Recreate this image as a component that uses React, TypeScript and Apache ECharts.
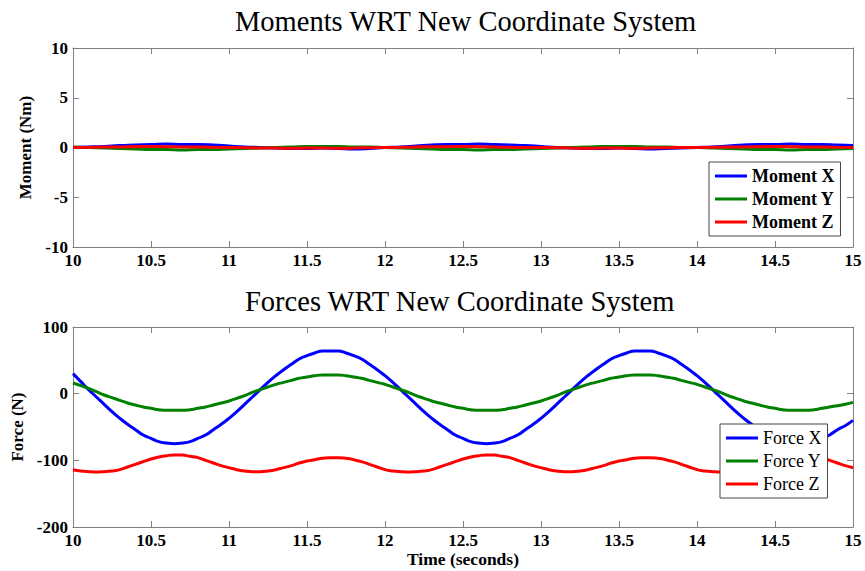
import React, { useEffect, useRef } from "react";
import * as echarts from "echarts";

// Moment samples (0.1 s)
const T_MOMENT = [
  10.0, 10.1, 10.2, 10.3, 10.4, 10.5, 10.6, 10.7, 10.8, 10.9,
  11.0, 11.1, 11.2, 11.3, 11.4, 11.5, 11.6, 11.7, 11.8, 11.9,
  12.0, 12.1, 12.2, 12.3, 12.4, 12.5, 12.6, 12.7, 12.8, 12.9,
  13.0, 13.1, 13.2, 13.3, 13.4, 13.5, 13.6, 13.7, 13.8, 13.9,
  14.0, 14.1, 14.2, 14.3, 14.4, 14.5, 14.6, 14.7, 14.8, 14.9, 15.0,
];

const MOMENT_X = [
  0.0, 0.05, 0.1, 0.2, 0.25, 0.3, 0.35, 0.3, 0.3, 0.25,
  0.15, 0.05, 0.0, -0.05, -0.1, -0.1, -0.05, -0.1, -0.15, -0.1,
  0.0, 0.05, 0.15, 0.25, 0.3, 0.3, 0.35, 0.3, 0.25, 0.2,
  0.1, 0.0, -0.05, -0.1, -0.1, -0.05, -0.1, -0.15, -0.1, -0.05,
  0.0, 0.05, 0.15, 0.25, 0.3, 0.3, 0.35, 0.3, 0.3, 0.25, 0.2,
];
const MOMENT_Y = [
  0.05, 0.0, -0.05, -0.1, -0.15, -0.2, -0.2, -0.25, -0.2, -0.2,
  -0.15, -0.1, -0.05, 0.0, 0.05, 0.1, 0.1, 0.1, 0.05, 0.05,
  0.0, -0.05, -0.1, -0.15, -0.2, -0.2, -0.25, -0.2, -0.2, -0.15,
  -0.1, -0.05, 0.0, 0.05, 0.1, 0.1, 0.1, 0.05, 0.05, 0.0,
  0.0, -0.05, -0.1, -0.15, -0.2, -0.2, -0.25, -0.2, -0.2, -0.15, -0.1,
];
const MOMENT_Z = [
  0.0, 0.02, 0.05, 0.05, 0.08, 0.1, 0.08, 0.05, 0.05, 0.02,
  0.0, -0.02, -0.05, -0.05, -0.08, -0.05, -0.05, -0.08, -0.05, -0.02,
  0.0, 0.02, 0.05, 0.08, 0.08, 0.1, 0.08, 0.05, 0.02, 0.0,
  0.0, -0.02, -0.05, -0.08, -0.05, -0.05, -0.08, -0.05, -0.02, 0.0,
  0.0, 0.02, 0.05, 0.05, 0.08, 0.1, 0.08, 0.05, 0.05, 0.02, 0.0,
];

// Force samples (0.05 s)
const T_FORCE = [
  10.0, 10.05, 10.1, 10.15, 10.2, 10.25, 10.3, 10.35, 10.4, 10.45,
  10.5, 10.55, 10.6, 10.65, 10.7, 10.75, 10.8, 10.85, 10.9, 10.95,
  11.0, 11.05, 11.1, 11.15, 11.2, 11.25, 11.3, 11.35, 11.4, 11.45,
  11.5, 11.55, 11.6, 11.65, 11.7, 11.75, 11.8, 11.85, 11.9, 11.95,
  12.0, 12.05, 12.1, 12.15, 12.2, 12.25, 12.3, 12.35, 12.4, 12.45,
  12.5, 12.55, 12.6, 12.65, 12.7, 12.75, 12.8, 12.85, 12.9, 12.95,
  13.0, 13.05, 13.1, 13.15, 13.2, 13.25, 13.3, 13.35, 13.4, 13.45,
  13.5, 13.55, 13.6, 13.65, 13.7, 13.75, 13.8, 13.85, 13.9, 13.95,
  14.0, 14.05, 14.1, 14.15, 14.2, 14.25, 14.3, 14.35, 14.4, 14.45,
  14.5, 14.55, 14.6, 14.65, 14.7, 14.75, 14.8, 14.85, 14.9, 14.95, 15.0,
];

const FORCE_X = [
  30, 18, 6, -5, -16, -27, -37, -46, -54, -62,
  -67, -72, -74, -75, -74, -72, -67, -62, -54, -46,
  -37, -27, -16, -5, 6, 17, 27, 36, 44, 52,
  57, 61, 64, 64, 64, 61, 57, 52, 44, 36,
  27, 17, 6, -5, -16, -27, -37, -46, -54, -62,
  -67, -72, -74, -75, -74, -72, -67, -62, -54, -46,
  -37, -27, -16, -5, 6, 17, 27, 36, 44, 52,
  57, 61, 64, 64, 64, 61, 57, 52, 44, 36,
  27, 17, 6, -5, -16, -27, -37, -46, -54, -62,
  -67, -72, -74, -75, -74, -72, -67, -62, -54, -48, -40,
];
const FORCE_Y = [
  16, 12, 8, 3, -2, -6, -10, -14, -17, -20,
  -22, -24, -25, -25, -25, -24, -22, -20, -17, -14,
  -11, -7, -3, 2, 6, 10, 14, 17, 20, 23,
  25, 27, 28, 28, 28, 27, 25, 23, 20, 17,
  14, 10, 6, 2, -3, -7, -11, -14, -17, -20,
  -22, -24, -25, -25, -25, -24, -22, -20, -17, -14,
  -11, -7, -3, 2, 6, 10, 14, 17, 20, 23,
  25, 27, 28, 28, 28, 27, 25, 23, 20, 17,
  14, 10, 6, 2, -3, -7, -11, -14, -17, -20,
  -22, -24, -25, -25, -25, -24, -22, -20, -18, -16, -13,
];
const FORCE_Z = [
  -114, -116, -117, -117.5, -117, -116, -114, -110, -106, -102,
  -98, -95, -93, -92, -92, -94, -96, -100, -104, -108,
  -111, -114, -116, -117, -117, -116, -114, -111, -108, -104,
  -101, -99, -97, -96, -96, -97, -99, -102, -106, -110,
  -114, -116, -117, -117.5, -117, -116, -114, -110, -106, -102,
  -98, -95, -93, -92, -92, -94, -96, -100, -104, -108,
  -111, -114, -116, -117, -117, -116, -114, -111, -108, -104,
  -101, -99, -97, -96, -96, -97, -99, -102, -106, -110,
  -114, -116, -117, -117.5, -117, -116, -114, -110, -106, -102,
  -98, -95, -93, -92, -92, -94, -96, -100, -104, -108, -111,
];

const X_TICKS = ["10", "10.5", "11", "11.5", "12", "12.5", "13", "13.5", "14", "14.5", "15"];

const FONT = "Liberation Serif";
const AXIS_COLOR = "#7f7f7f";

const pairs = (ts: number[], vals: number[]) => ts.map((t, i) => [t, vals[i]]);

export default function App() {
  const ref = useRef<HTMLDivElement>(null);
  useEffect(() => {
    if (!ref.current) return;
    const chart = echarts.init(ref.current, null, { renderer: "svg" });

    const labelStyle = { fontFamily: FONT, fontWeight: "bold" as const, fontSize: 17, color: "#000" };
    const xAxisBase = (gridIndex: number, pos: "bottom" | "top", showLabel: boolean, name?: string) => ({
      type: "value",
      gridIndex,
      position: pos,
      min: 10,
      max: 15,
      interval: 0.5,
      axisLine: { show: true, onZero: false, lineStyle: { color: AXIS_COLOR } },
      axisTick: { show: true, inside: true, length: 6, lineStyle: { color: AXIS_COLOR } },
      axisLabel: {
        show: showLabel,
        ...labelStyle,
        margin: 5,
        formatter: (v: number) => {
          const idx = Math.round((v - 10) / 0.5);
          return X_TICKS[idx] ?? "";
        },
      },
      splitLine: { show: false },
      name: name,
      nameLocation: "middle",
      nameGap: 22,
      nameTextStyle: { ...labelStyle, fontSize: 17.5 },
    });
    const yAxisBase = (
      gridIndex: number,
      pos: "left" | "right",
      showLabel: boolean,
      min: number,
      max: number,
      interval: number,
      name?: string,
      nameGap?: number
    ) => ({
      type: "value",
      gridIndex,
      position: pos,
      min,
      max,
      interval,
      axisLine: { show: true, onZero: false, lineStyle: { color: AXIS_COLOR } },
      axisTick: { show: true, inside: true, length: 6, lineStyle: { color: AXIS_COLOR } },
      axisLabel: { show: showLabel, ...labelStyle, margin: 5 },
      splitLine: { show: false },
      name,
      nameLocation: "middle",
      nameGap,
      nameRotate: 90,
      nameTextStyle: { ...labelStyle, fontSize: 17 },
    });

    const lineSeries = (name: string, ts: number[], vals: number[], color: string, axisIdx: number) => ({
      name,
      type: "line",
      xAxisIndex: axisIdx,
      yAxisIndex: axisIdx,
      data: pairs(ts, vals),
      smooth: true,
      showSymbol: false,
      symbol: "none",
      lineStyle: { color, width: 3 },
      itemStyle: { color },
    });

    const legendBase = {
      orient: "vertical",
      icon: "rect",
      itemWidth: 32,
      itemHeight: 3,
      itemGap: 5,
      padding: [5, 6, 5, 6],
      backgroundColor: "#fff",
      borderColor: "#444",
      borderWidth: 1,
      borderRadius: 0,
    };

    const titleStyle = { fontFamily: FONT, fontWeight: "normal", fontSize: 28.5, color: "#000" };

    chart.setOption({
      animation: false,
      backgroundColor: "#fff",
      title: [
        { text: "Moments WRT New Coordinate System", left: 230, top: 2, textStyle: titleStyle },
        { text: "Forces WRT New Coordinate System", left: 240, top: 282, textStyle: titleStyle },
      ],
      grid: [
        { left: 73, right: 12, top: 48, height: 199, show: false },
        { left: 73, right: 12, top: 327, height: 200, show: false },
      ],
      xAxis: [
        xAxisBase(0, "bottom", true),
        xAxisBase(0, "top", false),
        xAxisBase(1, "bottom", true, "Time (seconds)"),
        xAxisBase(1, "top", false),
      ],
      yAxis: [
        yAxisBase(0, "left", true, -10, 10, 5, "Moment (Nm)", 30),
        yAxisBase(0, "right", false, -10, 10, 5),
        yAxisBase(1, "left", true, -200, 100, 100, "Force (N)", 44),
        yAxisBase(1, "right", false, -200, 100, 100),
      ],
      legend: [
        {
          ...legendBase,
          data: ["Moment X", "Moment Y", "Moment Z"],
          left: 709,
          top: 162,
          textStyle: { fontFamily: FONT, fontWeight: "bold", fontSize: 18, color: "#000" },
        },
        {
          ...legendBase,
          data: ["Force X", "Force Y", "Force Z"],
          left: 720,
          top: 424,
          textStyle: { fontFamily: FONT, fontWeight: "normal", fontSize: 18, color: "#000" },
        },
      ],
      series: [
        lineSeries("Moment X", T_MOMENT, MOMENT_X, "#0000ff", 0),
        lineSeries("Moment Y", T_MOMENT, MOMENT_Y, "#008000", 0),
        lineSeries("Moment Z", T_MOMENT, MOMENT_Z, "#ff0000", 0),
        lineSeries("Force X", T_FORCE, FORCE_X, "#0000ff", 2),
        lineSeries("Force Y", T_FORCE, FORCE_Y, "#008000", 2),
        lineSeries("Force Z", T_FORCE, FORCE_Z, "#ff0000", 2),
      ],
    });
    return () => chart.dispose();
  }, []);

  return <div ref={ref} style={{ width: 865, height: 571, position: "absolute", left: 0, top: 0 }} />;
}
